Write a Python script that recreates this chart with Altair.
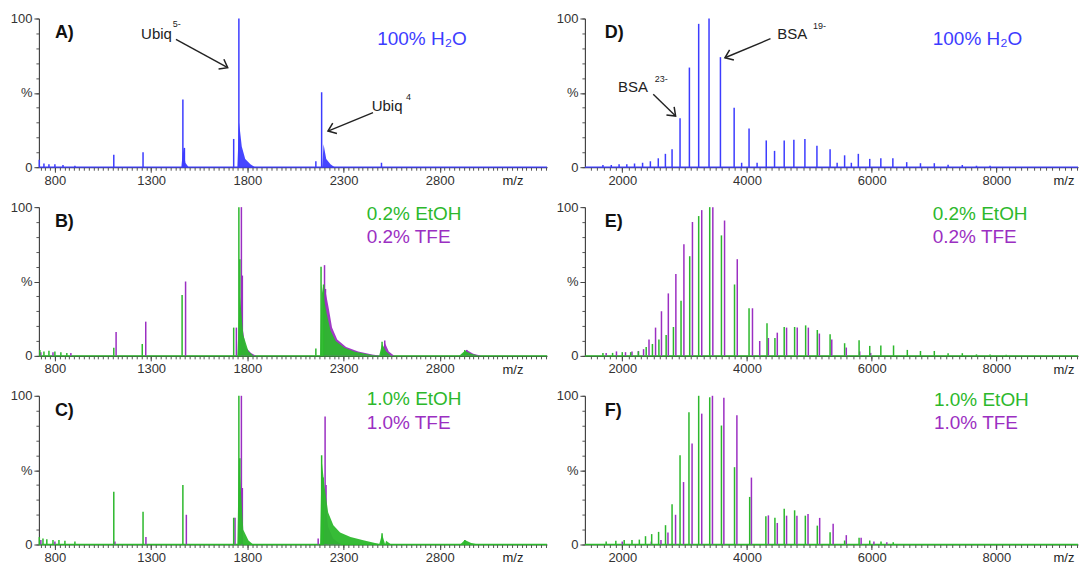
import altair as alt
import pandas as pd

FONT = "Liberation Sans"
BLUE = "#3c3cff"
GREEN = "#2cb82c"
PURPLE = "#9b2fc2"
INK = "#222222"

# ---------------- x axes ----------------
left_domain = [717, 3357]
right_domain = [1400, 9310]
left_ticks = [800, 1300, 1800, 2300, 2800]
right_ticks = [2000, 4000, 6000, 8000]
y_ticks = [0, 50, 100]

# ---------------- Panel A: ubiquitin, 100% H2O ----------------
A_h2o_mz = [719, 743, 769, 800, 842, 904, 1106, 1258, 1465, 1473, 1729, 1756, 2156, 2186, 2497]
A_h2o_int = [5, 2.5, 2, 2, 1.5, 1, 8.4, 10, 45.5, 13, 19, 100, 4, 50.4, 3]
A_h2o_tail_mz = [[1457, 1467, 1478, 1495], [1748, 1757, 1771, 1789, 1816, 1840],
                 [2189, 2196, 2210, 2232, 2254]]
A_h2o_tail_int = [[0, 13, 3, 0], [0, 30, 14, 5.5, 2, 0], [0, 15.5, 5.5, 2, 0]]

# ---------------- Panel B: 0.2% EtOH / 0.2% TFE ----------------
B_etoh_mz = [722, 743, 769, 800, 831, 862, 1106, 1254, 1461, 1729, 1756, 1761, 2156, 2183, 2196, 2500, 2930]
B_etoh_int = [4, 3, 3.5, 3, 2.5, 2, 5.5, 8, 41, 19, 100, 65, 5, 60, 48, 9.5, 4]
B_etoh_tail_mz = [[1748, 1761, 1779, 1806, 1833],
                  [2178, 2186, 2196, 2213, 2232, 2259, 2304, 2358, 2430, 2484],
                  [2485, 2500, 2521, 2547], [2901, 2930, 2963, 3005]]
B_etoh_tail_int = [[0, 41, 14, 3, 0], [0, 48, 40, 28, 17, 10, 5.5, 2.7, 1, 0],
                   [0, 8, 3, 0], [0, 3.5, 1.5, 0]]
B_tfe_mz = [727, 790, 883, 1118, 1272, 1479, 1743, 1769, 1774, 2201, 2206, 2514, 2940]
B_tfe_int = [2.5, 2.5, 2, 16, 23, 50, 19, 100, 54, 61, 45, 10.4, 4]
B_tfe_tail_mz = [[1765, 1774, 1790, 1819, 1845],
                 [2194, 2204, 2223, 2240, 2267, 2313, 2376, 2448, 2495],
                 [2495, 2514, 2535, 2563], [2911, 2940, 2974, 3015]]
B_tfe_tail_int = [[0, 20, 6, 2, 0], [0, 45, 32, 19, 11, 6, 3, 1, 0],
                  [0, 9, 3, 0], [0, 4, 1.5, 0]]

# ---------------- Panel C: 1.0% EtOH / 1.0% TFE ----------------
C_etoh_mz = [719, 738, 758, 790, 821, 852, 904, 1106, 1258, 1465, 1729, 1756, 1761, 2186, 2194, 2500, 2930]
C_etoh_int = [5, 4, 3.5, 3, 3, 2.5, 2, 35.5, 22, 40, 18, 100, 58, 60, 45, 7.5, 3]
C_etoh_tail_mz = [[1748, 1756, 1766, 1779, 1806, 1830],
                  [2178, 2186, 2201, 2220, 2247, 2282, 2336, 2408, 2480, 2516],
                  [2485, 2500, 2521, 2547], [2906, 2930, 2963, 2999]]
C_etoh_tail_int = [[0, 58, 37, 10, 2.7, 0], [0, 57, 39, 21.5, 13, 8, 5, 2.7, 0.5, 0],
                   [0, 7, 2.5, 0], [0, 3, 1, 0]]
C_tfe_mz = [727, 800, 1112, 1273, 1483, 1736, 1769, 1774, 2168, 2204, 2209]
C_tfe_int = [3, 2, 2, 5, 20, 18, 100, 38, 4, 86, 40]
C_tfe_tail_mz = [[2196, 2204, 2220, 2246, 2287]]
C_tfe_tail_int = [[0, 30, 12, 4, 0]]

# ---------------- Panel D: BSA, 100% H2O ----------------
D_h2o_mz = [1689, 1823, 1948, 2072, 2196, 2325, 2450, 2577, 2691, 2798, 2926, 3076, 3225, 3391,
            3574, 3794, 3914, 4033, 4162, 4309, 4442, 4597, 4752, 4929, 5122, 5333, 5446, 5566,
            5674, 5786, 5969, 6147, 6340, 6562, 6783, 7005, 7226, 7454, 7681, 7899]
D_h2o_int = [1.5, 1.5, 2, 2, 2.5, 3, 4, 6, 9, 12, 33, 67, 96.4, 100,
             74, 40, 3, 26, 3, 18, 11, 18, 18.4, 19, 14.4, 12, 3, 8,
             3, 9, 5.6, 6, 6, 3.4, 2.7, 2.7, 1.6, 1.5, 1, 1]

# ---------------- Panel E: 0.2% EtOH / 0.2% TFE ----------------
E_etoh_mz = [1689, 1844, 1999, 2134, 2258, 2383, 2483, 2587, 2703, 2820, 2942, 3081, 3225, 3402,
             3590, 3800, 4033, 4321, 4448, 4597, 4764, 4941, 5128, 5333, 5566, 5798, 5969, 6147,
             6351, 6572, 6783, 7005, 7226, 7454, 7681, 7899, 8158]
E_etoh_int = [2, 2, 2.5, 2.5, 3, 6, 8, 11, 14, 19.4, 37, 67, 94, 100,
              81, 48, 32, 22, 12, 19.4, 19.4, 20.5, 17.4, 14.5, 8.5, 10.5, 6.7, 7,
              7, 4, 3.3, 3.3, 1.8, 1.8, 1, 1, 0.8]
E_tfe_mz = [1741, 1906, 2051, 2155, 2258, 2341, 2428, 2533, 2628, 2738, 2859, 2988, 3125, 3274,
            3452, 3640, 3844, 4088, 4204, 4343, 4486, 4635, 4806, 4984, 5161, 5360, 5593, 5808, 5984]
E_tfe_int = [2, 3, 2.5, 3, 3.3, 4.5, 11, 19, 30, 42, 55, 75, 90, 98,
             100, 91, 65, 32, 10, 12, 15.6, 19, 19, 19, 15, 11, 5.6, 3, 2]

# ---------------- Panel F: 1.0% EtOH / 1.0% TFE ----------------
F_etoh_mz = [1741, 1896, 2030, 2155, 2273, 2372, 2471, 2582, 2693, 2798, 2926, 3069, 3225, 3402,
             3590, 3800, 4043, 4303, 4448, 4597, 4764, 4936, 5128, 5333, 5566, 5798, 5969, 6150, 6346]
F_etoh_int = [2, 2.5, 3, 3, 3.3, 5.6, 7, 8.5, 13, 27, 60, 89, 100, 99,
              80, 52, 32, 19, 18, 24, 23, 19.4, 12.7, 8.3, 2.7, 4.5, 2.7, 2, 1.5]
F_tfe_mz = [1999, 2465, 2620, 2732, 2854, 2982, 3119, 3274, 3446, 3629, 3838, 4071, 4343, 4486,
            4635, 4801, 4979, 5166, 5382, 5593, 5831, 6036, 6243]
F_tfe_int = [2, 2, 3, 8, 20, 42, 68, 88, 100, 98.7, 87, 45, 19.6, 14.5,
             19.4, 19.4, 20.5, 17.9, 14, 6.3, 4.5, 2, 1.5]

# ---------------- annotations (data coordinates) ----------------
panel_letters = ["A)", "B)", "C)", "D)", "E)", "F)"]
cond_A = ["100% H\u2082O"]
cond_B = ["0.2% EtOH", "0.2% TFE"]
cond_C = ["1.0% EtOH", "1.0% TFE"]
ion_labels = ["Ubiq", "5-", "Ubiq", "4", "BSA", "23-", "BSA", "19-"]

LEFT_W, RIGHT_W, PANEL_H = 509, 494, 149
COND_SIZE = 19


def panel(xdom, width, major, tick_step, series, texts, arrows, mz_x, base_color):
    xs = alt.Scale(domain=xdom, nice=False, zero=False)
    ys = alt.Scale(domain=[0, 100], nice=False, zero=False)
    minor = list(range(int((xdom[0] // tick_step + 1) * tick_step), int(xdom[1]), tick_step))
    base_df = pd.DataFrame({"x1": [xdom[0]], "x2": [xdom[1]], "y": [0]})

    layers = []
    minor_layer = alt.Chart(base_df).mark_rule(opacity=0).encode(
        x=alt.X("x1:Q", scale=xs, title=None,
                axis=alt.Axis(values=minor, labels=False, domain=False, tickSize=3,
                              orient="bottom", grid=False, tickColor="#555")),
        y=alt.Y("y:Q", scale=ys, title=None,
                axis=alt.Axis(values=list(range(0, 101, 10)), labels=False, domain=False,
                              tickSize=3, orient="left", grid=False, tickColor="#555")),
    )
    layers.append(minor_layer)
    major_layer = alt.Chart(base_df).mark_rule(color=base_color, strokeWidth=1.3).encode(
        x=alt.X("x1:Q", scale=xs, title=None,
                axis=alt.Axis(values=major, tickSize=5, orient="bottom", grid=False,
                              labelFlush=False, labelPadding=2, format="d")),
        x2="x2:Q",
        y=alt.Y("y:Q", scale=ys, title=None,
                axis=alt.Axis(values=y_ticks, tickSize=5, orient="left", grid=False,
                              labelPadding=2,
                              labelExpr="datum.value == 50 ? '%' : datum.label")),
    )
    layers.append(major_layer)

    for s in series:
        if s.get("tail_mz"):
            rows = []
            for g, (mzs, ints) in enumerate(zip(s["tail_mz"], s["tail_int"])):
                for m, v in zip(mzs, ints):
                    rows.append({"mz": m, "i": v, "g": g})
            tdf = pd.DataFrame(rows)
            layers.append(alt.Chart(tdf).mark_area(color=s["color"], opacity=0.95,
                                                   interpolate="linear").encode(
                x=alt.X("mz:Q", scale=xs, axis=None),
                y=alt.Y("i:Q", scale=ys, axis=None),
                detail="g:N",
            ))
        pdf = pd.DataFrame({"mz": s["mz"], "i": s["int"], "z": [0] * len(s["mz"])})
        layers.append(alt.Chart(pdf).mark_rule(color=s["color"], strokeWidth=1.5).encode(
            x=alt.X("mz:Q", scale=xs, axis=None),
            y=alt.Y("i:Q", scale=ys, axis=None),
            y2="z:Q",
        ))

    for t in texts:
        tdf = pd.DataFrame({"x": [t["x"]], "y": [t["y"]], "t": [t["text"]]})
        layers.append(alt.Chart(tdf).mark_text(
            font=FONT, fontSize=t.get("size", COND_SIZE), fontWeight=t.get("weight", "normal"),
            color=t.get("color", INK), align=t.get("align", "left"), baseline="middle",
        ).encode(
            x=alt.X("x:Q", scale=xs, axis=None),
            y=alt.Y("y:Q", scale=ys, axis=None),
            text="t:N",
        ))

    if arrows:
        adf = pd.DataFrame(arrows)
        layers.append(alt.Chart(adf).mark_rule(color=INK, strokeWidth=1.4).encode(
            x=alt.X("x:Q", scale=xs, axis=None), x2="x2:Q",
            y=alt.Y("y:Q", scale=ys, axis=None), y2="y2:Q",
        ))
        layers.append(alt.Chart(adf).mark_point(
            shape="M-1,-0.75L0,0L-1,0.75", filled=False, stroke=INK, strokeWidth=1.5,
            size=220, opacity=1,
        ).encode(
            x=alt.X("x2:Q", scale=xs, axis=None),
            y=alt.Y("y2:Q", scale=ys, axis=None),
            angle=alt.Angle("ang:Q", scale=None),
        ))

    mdf = pd.DataFrame({"x": [mz_x], "y": [-9.2], "t": ["m/z"]})
    layers.append(alt.Chart(mdf).mark_text(font=FONT, fontSize=13, color=INK,
                                           align="center", baseline="middle").encode(
        x=alt.X("x:Q", scale=xs, axis=None),
        y=alt.Y("y:Q", scale=ys, axis=None),
        text="t:N",
    ))

    return alt.layer(*layers).resolve_axis(x="independent", y="independent").properties(
        width=width, height=PANEL_H)


def letter(x, txt):
    return {"x": x, "y": 90, "text": txt, "size": 18, "weight": "bold", "color": "#111"}


def two_cond(x, txts, y1, y2):
    return [{"x": x, "y": y1, "text": txts[0], "color": GREEN},
            {"x": x, "y": y2, "text": txts[1], "color": PURPLE}]


pA = panel(left_domain, LEFT_W, left_ticks, 25,
           [{"mz": A_h2o_mz, "int": A_h2o_int, "color": BLUE,
             "tail_mz": A_h2o_tail_mz, "tail_int": A_h2o_tail_int}],
           [letter(800, panel_letters[0]),
            {"x": 2475, "y": 86, "text": cond_A[0], "color": BLUE},
            {"x": 1248, "y": 89.3, "text": ion_labels[0], "size": 15},
            {"x": 1412, "y": 96.5, "text": ion_labels[1], "size": 9},
            {"x": 2446, "y": 41, "text": ion_labels[2], "size": 15},
            {"x": 2625, "y": 47.5, "text": ion_labels[3], "size": 9}],
           [{"x": 1429, "y": 85.9, "x2": 1698, "y2": 66.9, "ang": 28.6},
            {"x": 2453, "y": 36.7, "x2": 2219, "y2": 24.3, "ang": 157.8}],
           3180, BLUE)

pB = panel(left_domain, LEFT_W, left_ticks, 25,
           [{"mz": B_tfe_mz, "int": B_tfe_int, "color": PURPLE,
             "tail_mz": B_tfe_tail_mz, "tail_int": B_tfe_tail_int},
            {"mz": B_etoh_mz, "int": B_etoh_int, "color": GREEN,
             "tail_mz": B_etoh_tail_mz, "tail_int": B_etoh_tail_int}],
           [letter(800, panel_letters[1])] + two_cond(2420, cond_B, 95.3, 79.9),
           None, 3180, GREEN)

pC = panel(left_domain, LEFT_W, left_ticks, 25,
           [{"mz": C_tfe_mz, "int": C_tfe_int, "color": PURPLE,
             "tail_mz": C_tfe_tail_mz, "tail_int": C_tfe_tail_int},
            {"mz": C_etoh_mz, "int": C_etoh_int, "color": GREEN,
             "tail_mz": C_etoh_tail_mz, "tail_int": C_etoh_tail_int}],
           [letter(800, panel_letters[2])] + two_cond(2420, cond_C, 97.5, 81.9),
           None, 3180, GREEN)

pD = panel(right_domain, RIGHT_W, right_ticks, 100,
           [{"mz": D_h2o_mz, "int": D_h2o_int, "color": BLUE}],
           [letter(1720, panel_letters[3]),
            {"x": 6980, "y": 86, "text": cond_A[0], "color": BLUE},
            {"x": 1931, "y": 53.7, "text": ion_labels[4], "size": 15},
            {"x": 2520, "y": 59.5, "text": ion_labels[5], "size": 9},
            {"x": 4486, "y": 89.3, "text": ion_labels[6], "size": 15},
            {"x": 5060, "y": 95, "text": ion_labels[7], "size": 9}],
           [{"x": 2496, "y": 49, "x2": 2855, "y2": 34.4, "ang": 44},
            {"x": 4377, "y": 86.4, "x2": 3646, "y2": 73.6, "ang": 157.4}],
           9085, BLUE)

pE = panel(right_domain, RIGHT_W, right_ticks, 100,
           [{"mz": E_tfe_mz, "int": E_tfe_int, "color": PURPLE},
            {"mz": E_etoh_mz, "int": E_etoh_int, "color": GREEN}],
           [letter(1720, panel_letters[4])] + two_cond(6980, cond_B, 95.3, 79.9),
           None, 9085, GREEN)

pF = panel(right_domain, RIGHT_W, right_ticks, 100,
           [{"mz": F_tfe_mz, "int": F_tfe_int, "color": PURPLE},
            {"mz": F_etoh_mz, "int": F_etoh_int, "color": GREEN}],
           [letter(1720, panel_letters[5])] + two_cond(7000, cond_C, 97, 81.9),
           None, 9085, GREEN)

left = alt.vconcat(pA, pB, pC, spacing=13)
right = alt.vconcat(pD, pE, pF, spacing=13)

chart = alt.hconcat(left, right, spacing=8).properties(
    padding={"left": 10, "top": 12, "right": 0, "bottom": 0},
    background="white",
).configure_view(stroke=None).configure_axis(
    labelFont=FONT, labelFontSize=13, labelColor="#333333",
    domainColor="#444444", tickColor="#444444", domainWidth=1.2, tickWidth=1,
)

chart.save("out.html", embed_options={"renderer": "svg", "actions": False})
